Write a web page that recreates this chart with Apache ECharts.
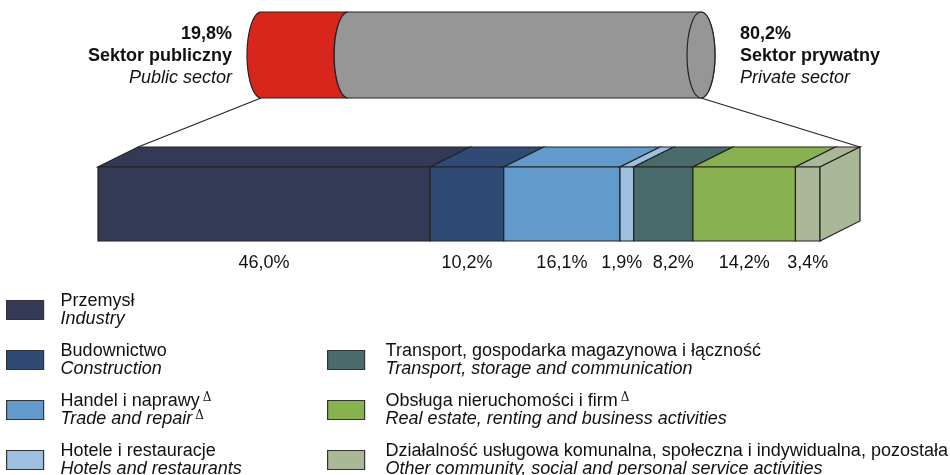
<!DOCTYPE html>
<html>
<head>
<meta charset="utf-8">
<script src="https://cdn.jsdelivr.net/npm/echarts@6/dist/echarts.min.js"></script>
<style>
html,body{margin:0;padding:0;background:#fff;}
#chart{width:950px;height:475px;}
</style>
</head>
<body>
<div id="chart"></div>
<script>
// sektory własności
var sectorNames = ['Sektor publiczny', 'Sektor prywatny'];
var sectorNamesEn = ['Public sector', 'Private sector'];
var sectorValues = [19.8, 80.2];
var sectorColors = ['#d9261c', '#969696'];

// sekcje w sektorze prywatnym
var branchNames = ['Przemysł', 'Budownictwo', 'Handel i naprawy', 'Hotele i restauracje',
	'Transport, gospodarka magazynowa i łączność', 'Obsługa nieruchomości i firm',
	'Działalność usługowa komunalna, społeczna i indywidualna, pozostała'];
var branchNamesEn = ['Industry', 'Construction', 'Trade and repair', 'Hotels and restaurants',
	'Transport, storage and communication', 'Real estate, renting and business activities',
	'Other community, social and personal service activities'];
var deltaPl = [false, false, true, false, false, true, false];
var deltaEn = [false, false, true, false, false, false, false];
var branchValues = [46.0, 10.2, 16.1, 1.9, 8.2, 14.2, 3.4];
var branchColors = ['#343a56', '#2e4a75', '#629bcb', '#9ebfe0', '#496b6b', '#88b24f', '#aab898'];

var FONT = 'Liberation Sans, Arial, sans-serif';
var EDGE = '#222';
var DX = 40, DY = 20;   // głębokość pudełka
var RX = 14;            // promień elipsy walca
var labelShift = {3: -5, 4: 10};

function pct(v){
	return v.toFixed(1).replace('.', ',') + '%';
}

function cumulative(list){
	var out = [], s = 0;
	list.forEach(function(v){ out.push([s, s + v]); s += v; });
	return out;
}
var sectorRanges = cumulative(sectorValues);
var branchRanges = cumulative(branchValues);

function halfEllipse(cx, cy, ry, from, to){
	var pts = [];
	for (var k = 0; k <= 24; k++) {
		var t = from + (to - from) * k / 24;
		pts.push([cx + RX * Math.cos(t), cy + ry * Math.sin(t)]);
	}
	return pts;
}

// walec
function renderSector(j){
	return function(params, api){
		var a = api.coord([api.value(0), 0]);
		var b = api.coord([api.value(1), 1]);
		var x0 = a[0], x1 = b[0], yb = a[1], yt = b[1];
		var cy = (yt + yb) / 2, ry = (yb - yt) / 2;
		var last = j === sectorValues.length - 1;
		var pts = [[x0, yt]];
		if (last) pts = pts.concat(halfEllipse(x1, cy, ry, -Math.PI / 2, Math.PI / 2));
		else pts = pts.concat(halfEllipse(x1, cy, ry, Math.PI * 1.5, Math.PI / 2));
		pts = pts.concat(halfEllipse(x0, cy, ry, Math.PI / 2, Math.PI * 1.5));
		var children = [{
			type: 'polygon',
			shape: {points: pts},
			style: {fill: sectorColors[j], stroke: EDGE, lineWidth: 1.2}
		}];
		if (last) {
			children.push({
				type: 'ellipse',
				shape: {cx: x1, cy: cy, rx: RX, ry: ry},
				style: {fill: sectorColors[j], stroke: EDGE, lineWidth: 1.2}
			});
		}
		var txt = '{p|' + pct(sectorValues[j]) + '}\n{n|' + sectorNames[j] + '}\n{e|' + sectorNamesEn[j] + '}';
		children.push({
			type: 'text',
			x: j === 0 ? x0 - RX - 15 : x1 + RX + 25,
			y: cy + 1,
			style: {
				text: txt,
				align: j === 0 ? 'right' : 'left',
				verticalAlign: 'middle',
				rich: {
					p: {fontFamily: FONT, fontSize: 18, fontWeight: 'bold', lineHeight: 22, fill: '#111'},
					n: {fontFamily: FONT, fontSize: 18, fontWeight: 'bold', lineHeight: 22, fill: '#111'},
					e: {fontFamily: FONT, fontSize: 18, fontStyle: 'italic', lineHeight: 22, fill: '#111'}
				}
			}
		});
		return {type: 'group', children: children};
	};
}

// pudełko
function renderBranch(i){
	return function(params, api){
		var a = api.coord([api.value(0), 0]);
		var b = api.coord([api.value(1), 1]);
		var x0 = a[0], x1 = b[0], yb = a[1], yt = b[1];
		var st = {fill: branchColors[i], stroke: EDGE, lineWidth: 1.2};
		var children = [
			{type: 'polygon', shape: {points: [[x0, yt], [x1, yt], [x1 + DX, yt - DY], [x0 + DX, yt - DY]]}, style: st},
			{type: 'rect', shape: {x: x0, y: yt, width: x1 - x0, height: yb - yt}, style: st}
		];
		if (i === branchValues.length - 1) {
			children.push({type: 'polygon', shape: {points: [[x1, yt], [x1 + DX, yt - DY], [x1 + DX, yb - DY], [x1, yb]]}, style: st});
		}
		children.push({
			type: 'text',
			x: (x0 + x1) / 2 + (labelShift[i] || 0),
			y: yb + 22,
			style: {text: pct(branchValues[i]), align: 'center', verticalAlign: 'middle',
				font: '18px ' + FONT, fill: '#111'}
		});
		return {type: 'group', children: children};
	};
}

var series = [];
sectorNames.forEach(function(n, j){
	series.push({
		type: 'custom', name: n, xAxisIndex: 0, yAxisIndex: 0,
		itemStyle: {color: sectorColors[j]},
		renderItem: renderSector(j),
		data: [sectorRanges[j]], silent: true
	});
});
branchNames.forEach(function(n, i){
	series.push({
		type: 'custom', name: n, xAxisIndex: 1, yAxisIndex: 1,
		itemStyle: {color: branchColors[i]},
		renderItem: renderBranch(i),
		data: [branchRanges[i]], silent: true
	});
});

var rich = {
	a: {fontFamily: FONT, fontSize: 18, lineHeight: 18, color: '#111'},
	b: {fontFamily: FONT, fontSize: 18, lineHeight: 18, fontStyle: 'italic', color: '#111'},
	d: {fontFamily: 'DejaVu Serif', fontSize: 12, lineHeight: 4, verticalAlign: 'top', padding: [0, 0, 0, 3], color: '#111'}
};
function legendText(name){
	var i = branchNames.indexOf(name);
	return '{a|' + name + '}' + (deltaPl[i] ? '{d|Δ}' : '') + '\n{b|' + branchNamesEn[i] + '}' + (deltaEn[i] ? '{d|Δ}' : '');
}
var legendBase = {
	orient: 'vertical', icon: 'rect', itemWidth: 37, itemHeight: 19, itemGap: 14, padding: 0,
	height: 220, width: 620,
	itemStyle: {borderColor: '#333', borderWidth: 1.2},
	formatter: legendText, selectedMode: false
};

var chart = echarts.init(document.getElementById('chart'));
chart.setOption({
	animation: false,
	backgroundColor: '#fff',
	grid: [
		{left: 261, right: 249, top: 12, height: 86},
		{left: 98, right: 130, top: 167, height: 74}
	],
	xAxis: [
		{gridIndex: 0, type: 'value', min: 0, max: 100, show: false},
		{gridIndex: 1, type: 'value', min: 0, max: 100, show: false}
	],
	yAxis: [
		{gridIndex: 0, type: 'value', min: 0, max: 1, show: false},
		{gridIndex: 1, type: 'value', min: 0, max: 1, show: false}
	],
	legend: [
		Object.assign({}, legendBase, {data: branchNames.slice(0, 4), left: 6, top: 292,
			textStyle: {rich: rich, padding: [0, 0, 0, 12]}}),
		Object.assign({}, legendBase, {data: branchNames.slice(4), left: 327, top: 342,
			textStyle: {rich: rich, padding: [0, 0, 0, 16]}})
	],
	series: series
});

// linie łączące walec z pudełkiem
var c0 = chart.convertToPixel({gridIndex: 0}, [0, 0]);
var c1 = chart.convertToPixel({gridIndex: 0}, [100, 0]);
var b0 = chart.convertToPixel({gridIndex: 1}, [0, 1]);
var b1 = chart.convertToPixel({gridIndex: 1}, [100, 1]);
chart.setOption({
	graphic: [
		{type: 'line', shape: {x1: c0[0], y1: c0[1], x2: b0[0] + DX, y2: b0[1] - DY}, style: {stroke: EDGE, lineWidth: 1.2}, z: 0},
		{type: 'line', shape: {x1: c1[0], y1: c1[1], x2: b1[0] + DX, y2: b1[1] - DY}, style: {stroke: EDGE, lineWidth: 1.2}, z: 0}
	]
});
</script>
</body>
</html>
